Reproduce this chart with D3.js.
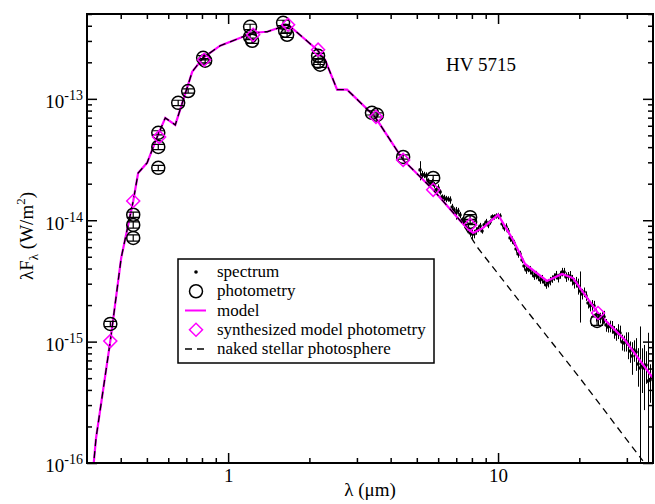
<!DOCTYPE html>
<html>
<head>
<meta charset="utf-8">
<script src="https://cdn.jsdelivr.net/npm/d3@7"></script>
<style>
body { margin: 0; background: #fff; }
text { font-family: "Liberation Serif", "Times New Roman", serif; fill: #000; }
</style>
</head>
<body>
<svg id="chart" width="655" height="504"></svg>
<script>
// ---- data (lambda in micron, lambda*F_lambda in W/m^2) ----
var modelLam = [0.316, 0.324, 0.366, 0.4016, 0.445, 0.464, 0.501, 0.546, 0.585, 0.637, 0.736, 0.808, 0.934,
  1.238, 1.394, 1.668, 2.136, 2.287, 2.533, 2.758, 3.50, 4.45, 5.75, 7.36, 8.08, 8.80, 10.0, 11.37,
  12.59, 15.18, 17.26, 18.96, 23.46, 29.5, 37.5];
var modelF = [8.75e-17, 1.60e-16, 1.01e-15, 4.89e-15, 1.44e-14, 2.45e-14, 2.97e-14, 4.86e-14, 6.97e-14, 6.10e-14,
  1.67e-13, 2.18e-13, 2.74e-13, 3.50e-13, 3.57e-13, 4.08e-13, 2.54e-13, 2.10e-13, 1.19e-13, 1.19e-13,
  7.11e-14, 3.14e-14, 1.78e-14, 9.5e-15, 7.85e-15, 8.64e-15, 1.11e-14, 6.88e-15, 4.36e-15, 3.16e-15,
  3.61e-15, 3.34e-15, 1.72e-15, 1.03e-15, 5.01e-16];

var nakedLam = [0.316, 0.324, 0.366, 0.4016, 0.445, 0.464, 0.501, 0.546, 0.585, 0.637, 0.736, 0.808, 0.934,
  1.238, 1.394, 1.668, 2.136, 2.287, 2.533, 2.758, 3.50, 4.45, 5.75, 7.36, 8.36, 12.06, 20.1, 34.4];
var nakedF = [8.75e-17, 1.60e-16, 1.01e-15, 4.89e-15, 1.44e-14, 2.45e-14, 2.97e-14, 4.86e-14, 6.97e-14, 6.10e-14,
  1.67e-13, 2.18e-13, 2.74e-13, 3.50e-13, 3.57e-13, 4.08e-13, 2.54e-13, 2.10e-13, 1.19e-13, 1.19e-13,
  7.11e-14, 3.14e-14, 1.78e-14, 9.5e-15, 6.03e-15, 2.12e-15, 5.01e-16, 1.04e-16];

var photLam = [0.366, 0.445, 0.445, 0.445, 0.551, 0.551, 0.551, 0.653, 0.711, 0.808, 0.822, 1.206, 1.206,
  1.227, 1.598, 1.626, 1.654, 2.154, 2.154, 2.192, 3.41, 3.56, 4.45, 5.75, 7.88, 7.88, 23.27];
var photF = [1.40e-15, 1.11e-14, 9.15e-15, 7.15e-15, 5.25e-14, 4.02e-14, 2.70e-14, 9.27e-14, 1.16e-13, 2.18e-13,
  2.06e-13, 3.92e-13, 3.24e-13, 3.01e-13, 4.23e-13, 3.64e-13, 3.37e-13, 2.26e-13, 2.02e-13, 1.91e-13,
  7.67e-14, 7.38e-14, 3.32e-14, 2.23e-14, 1.06e-14, 9.68e-15, 1.48e-15];
var photErr = [0.05, 0.05, 0.06, 0.06, 0.04, 0.05, 0.05, 0.05, 0.04, 0.04, 0.04, 0.05, 0.05, 0.05, 0.05, 0.05,
  0.05, 0.05, 0.05, 0.05, 0.04, 0.04, 0.04, 0.05, 0.05, 0.05, 0.08];

var synthLam = [0.366, 0.445, 0.555, 0.815, 1.238, 1.668, 2.154, 3.53, 4.45, 5.75, 7.88, 23.46];
var synthF = [1.01e-15, 1.44e-14, 4.86e-14, 2.10e-13, 3.37e-13, 4.08e-13, 2.54e-13, 7.11e-14, 3.14e-14,
  1.78e-14, 9.15e-15, 1.72e-15];

var specLam = [5.14, 5.23, 5.32, 5.41, 5.51, 5.60, 5.70, 5.79, 5.89, 6.00, 6.10, 6.20, 6.31, 6.42, 6.53, 6.64,
  6.76, 6.87, 6.99, 7.11, 7.23, 7.36, 7.48, 7.61, 7.74, 7.88, 8.01, 8.15, 8.29, 8.43, 8.58, 8.72, 8.88,
  9.03, 9.18, 9.34, 9.50, 9.66, 9.83, 10.00, 10.17, 10.35, 10.53, 10.71, 10.89, 11.08, 11.27, 11.46,
  11.66, 11.86, 12.06, 12.27, 12.48, 12.70, 12.92, 13.14, 13.36, 13.59, 13.83, 14.07, 14.31, 14.55,
  14.80, 15.06, 15.32, 15.58, 15.85, 16.12, 16.40, 16.68, 16.97, 17.26, 17.56, 17.86, 18.17, 18.48,
  18.80, 19.12, 19.45, 19.78, 20.12, 20.47, 20.82, 21.18, 21.54, 21.91, 22.29, 22.67, 23.07, 23.46,
  23.87, 24.28, 24.69, 25.12, 25.55, 25.99, 26.44, 26.89, 27.35, 27.83, 28.30, 28.79, 29.29, 29.79,
  30.30, 30.82, 31.35, 31.89, 32.44, 33.00, 33.57, 34.14, 34.73, 35.33, 35.94, 36.55, 37.19];
var specF = [2.598e-14, 2.363e-14, 2.363e-14, 2.318e-14, 2.109e-14, 1.992e-14, 2.069e-14, 1.954e-14,
  1.777e-14, 1.846e-14, 1.711e-14, 1.556e-14, 1.527e-14, 1.498e-14, 1.498e-14, 1.470e-14, 1.287e-14,
  1.216e-14, 1.149e-14, 1.193e-14, 1.106e-14, 1.006e-14, 9.50e-15, 8.81e-15, 8.64e-15, 7.86e-15,
  7.71e-15, 7.71e-15, 8.16e-15, 8.48e-15, 8.97e-15, 8.16e-15, 9.15e-15, 9.68e-15, 9.15e-15, 9.68e-15,
  1.065e-14, 1.065e-14, 1.085e-14, 1.085e-14, 1.085e-14, 9.32e-15, 8.64e-15, 8.81e-15, 8.16e-15,
  7.15e-15, 6.88e-15, 6.50e-15, 5.80e-15, 5.28e-15, 5.28e-15, 4.71e-15, 4.20e-15, 3.89e-15, 3.97e-15,
  3.89e-15, 3.68e-15, 3.47e-15, 3.54e-15, 3.41e-15, 3.22e-15, 3.28e-15, 3.10e-15, 2.93e-15, 3.04e-15,
  3.16e-15, 3.28e-15, 3.41e-15, 3.54e-15, 3.34e-15, 3.54e-15, 3.75e-15, 3.75e-15, 3.41e-15, 3.47e-15,
  3.47e-15, 3.22e-15, 3.04e-15, 3.10e-15, 2.87e-15, 2.61e-15, 2.47e-15, 2.56e-15, 2.38e-15, 2.08e-15,
  1.97e-15, 2.00e-15, 1.97e-15, 1.66e-15, 1.54e-15, 1.57e-15, 1.57e-15, 1.60e-15, 1.37e-15, 1.32e-15,
  1.34e-15, 1.32e-15, 1.20e-15, 1.155e-15, 1.22e-15, 1.177e-15, 9.93e-16, 9.74e-16, 1.01e-15, 9.55e-16,
  8.36e-16, 7.61e-16, 8.53e-16, 8.21e-16, 6.54e-16, 6.06e-16, 6.29e-16, 6.06e-16, 6.41e-16, 4.73e-16,
  4.82e-16, 5.11e-16];
var specErr = [0.18, 0.08, 0.06, 0.07, 0.05, 0.05, 0.06, 0.06, 0.05, 0.07,
  0.05, 0.05, 0.06, 0.06, 0.05, 0.07, 0.06, 0.05, 0.12, 0.06,
  0.06, 0.05, 0.07, 0.06, 0.08, 0.07, 0.09, 0.08, 0.07, 0.06,
  0.06, 0.05, 0.05, 0.06, 0.06, 0.05, 0.05, 0.05, 0.05, 0.06,
  0.05, 0.06, 0.06, 0.07, 0.06, 0.07, 0.07, 0.06, 0.07, 0.07,
  0.06, 0.06, 0.07, 0.07, 0.06, 0.08, 0.07, 0.07, 0.08, 0.07,
  0.07, 0.08, 0.07, 0.07, 0.08, 0.08, 0.07, 0.07, 0.08, 0.08,
  0.07, 0.08, 0.08, 0.09, 0.08, 0.10, 0.10, 0.10, 0.10, 0.15,
  0.45, 0.10, 0.09, 0.09, 0.10, 0.10, 0.10, 0.10, 0.12, 0.12,
  0.10, 0.11, 0.12, 0.12, 0.10, 0.11, 0.12, 0.12, 0.12, 0.14,
  0.15, 0.15, 0.15, 0.18, 0.25, 0.20, 0.30, 0.20, 0.30, 0.35,
  1.20, 0.40, 0.55, 0.30, 1.50, 0.35, 0.40];

var xMajor = [1, 10];
var xMinor = [0.4, 0.5, 0.6, 0.7, 0.8, 0.9, 2, 3, 4, 5, 6, 7, 8, 9, 20, 30];
var yMajor = [1e-16, 1e-15, 1e-14, 1e-13];
var legendLabels = ["spectrum", "photometry", "model", "synthesized model photometry", "naked stellar photosphere"];
var title = "HV 5715";

function draw() {
  var svg = d3.select('#chart'),
      pLeft = 87, pRight = 653, pTop = 14, pBottom = 463,
      magenta = '#ff00ff';

  var x = d3.scaleLog().domain([0.3, 37.5]).range([pLeft, pRight]);
  var y = d3.scaleLog().domain([1e-16, 5e-13]).range([pBottom, pTop]);

  var yMinor = [];
  yMajor.forEach(function(m) {
    for (var k = 2; k <= 9; k++) if (k * m <= 5e-13) yMinor.push(k * m);
  });

  svg.append('defs').append('clipPath').attr('id', 'clip')
    .append('rect').attr('x', pLeft).attr('y', pTop)
    .attr('width', pRight - pLeft).attr('height', pBottom - pTop);

  function ticks(axis, vals, len, tx, ty) {
    var g = svg.append('g').attr('transform', 'translate(' + tx + ',' + ty + ')')
      .call(axis.tickValues(vals).tickSize(-len).tickFormat(''));
    g.select('.domain').remove();
    g.selectAll('line').attr('stroke', '#000').attr('stroke-width', 1.5);
    g.selectAll('text').remove();
    return g;
  }

  // minor + major ticks on all four sides (pointing inward)
  ticks(d3.axisBottom(x), xMinor, 5, 0, pBottom);
  ticks(d3.axisBottom(x), xMajor, 10, 0, pBottom);
  ticks(d3.axisTop(x), xMinor, 5, 0, pTop);
  ticks(d3.axisTop(x), xMajor, 10, 0, pTop);
  ticks(d3.axisLeft(y), yMinor, 5, pLeft, 0);
  ticks(d3.axisLeft(y), yMajor, 10, pLeft, 0);
  ticks(d3.axisRight(y), yMinor, 5, pRight, 0);
  ticks(d3.axisRight(y), yMajor, 10, pRight, 0);

  // tick labels
  var gxl = svg.append('g').attr('transform', 'translate(0,' + pBottom + ')')
    .call(d3.axisBottom(x).tickValues(xMajor).tickSize(0).tickPadding(6).tickFormat(d3.format('d')));
  gxl.select('.domain').remove();
  gxl.attr('font-family', null).attr('font-size', 19);

  var gyl = svg.append('g').attr('transform', 'translate(' + pLeft + ',0)')
    .call(d3.axisLeft(y).tickValues(yMajor).tickSize(0).tickPadding(4).tickFormat(''));
  gyl.select('.domain').remove();
  gyl.attr('font-family', null).attr('font-size', 19);
  gyl.selectAll('.tick text').each(function(d) {
    var t = d3.select(this).attr('dy', '0.47em');
    t.append('tspan').text('10');
    t.append('tspan').attr('dy', -8).attr('font-size', 14).text(String(Math.round(Math.log10(d))));
  });

  var plot = svg.append('g').attr('clip-path', 'url(#clip)');

  var line = d3.line()
    .x(function(d) { return x(d[0]); })
    .y(function(d) { return y(d[1]); });

  // spectrum with error bars
  var spec = plot.selectAll('g.spec')
    .data(d3.zip(specLam, specF, specErr))
    .enter()
    .append('g')
    .attr('class', 'spec');

  spec.append('line')
    .attr('x1', function(d) { return Math.round(x(d[0])) + 0.5; })
    .attr('x2', function(d) { return Math.round(x(d[0])) + 0.5; })
    .attr('y1', function(d) { return y(d[1] * (1 + d[2])); })
    .attr('y2', function(d) { return y(Math.max(d[1] * (1 - d[2]), 1e-17)); })
    .attr('stroke', '#000')
    .attr('stroke-width', 1);

  spec.append('circle')
    .attr('cx', function(d) { return x(d[0]); })
    .attr('cy', function(d) { return y(d[1]); })
    .attr('r', 1.8)
    .attr('fill', '#000');

  // model
  plot.append('path')
    .datum(d3.zip(modelLam, modelF))
    .attr('d', line)
    .attr('fill', 'none')
    .attr('stroke', magenta)
    .attr('stroke-width', 2.2);

  // naked photosphere (dashed, drawn over the model where they coincide)
  plot.append('path')
    .datum(d3.zip(nakedLam, nakedF))
    .attr('d', line)
    .attr('fill', 'none')
    .attr('stroke', '#000')
    .attr('stroke-width', 1.3)
    .attr('stroke-dasharray', '7,5');

  // photometry circles with small error bars
  var phot = plot.selectAll('g.phot')
    .data(d3.zip(photLam, photF, photErr))
    .enter()
    .append('g')
    .attr('class', 'phot')
    .attr('transform', function(d) { return 'translate(' + x(d[0]) + ',0)'; });

  phot.append('circle')
    .attr('cy', function(d) { return y(d[1]); })
    .attr('r', 6.5)
    .attr('fill', 'none')
    .attr('stroke', '#000')
    .attr('stroke-width', 1.5);

  phot.append('path')
    .attr('d', function(d) {
      var hi = y(d[1] * (1 + d[2])), lo = y(d[1] * (1 - d[2]));
      return 'M0 ' + hi + ' L0 ' + lo + ' M-6 ' + hi + ' L6 ' + hi + ' M-6 ' + lo + ' L6 ' + lo;
    })
    .attr('stroke', '#000')
    .attr('stroke-width', 1.2)
    .attr('fill', 'none');

  // synthesized model photometry (diamonds)
  var diamond = d3.symbol().type(d3.symbolSquare).size(85);
  plot.selectAll('path.synth')
    .data(d3.zip(synthLam, synthF))
    .enter()
    .append('path')
    .attr('class', 'synth')
    .attr('d', diamond)
    .attr('transform', function(d) { return 'translate(' + x(d[0]) + ',' + y(d[1]) + ') rotate(45)'; })
    .attr('fill', 'none')
    .attr('stroke', magenta)
    .attr('stroke-width', 1.5);

  // frame
  svg.append('rect')
    .attr('x', pLeft).attr('y', pTop)
    .attr('width', pRight - pLeft).attr('height', pBottom - pTop)
    .attr('fill', 'none')
    .attr('stroke', '#000')
    .attr('stroke-width', 2);

  // title
  svg.append('text')
    .attr('x', 481).attr('y', 71)
    .attr('text-anchor', 'middle')
    .attr('font-size', 19)
    .text(title);

  // axis titles
  svg.append('text')
    .attr('x', (pLeft + pRight) / 2).attr('y', 496)
    .attr('text-anchor', 'middle')
    .attr('font-size', 19)
    .text('λ (μm)');

  var yl = svg.append('text')
    .attr('transform', 'translate(33,236) rotate(-90)')
    .attr('text-anchor', 'middle')
    .attr('font-size', 19);
  yl.append('tspan').text('λF');
  yl.append('tspan').attr('font-size', 13).attr('dy', 5).text('λ');
  yl.append('tspan').attr('dy', -5).text(' (W/m');
  yl.append('tspan').attr('font-size', 13).attr('dy', -8).text('2');
  yl.append('tspan').attr('dy', 8).text(')');

  // legend
  var legend = svg.append('g');
  legend.append('rect')
    .attr('x', 178).attr('y', 259).attr('width', 256).attr('height', 104)
    .attr('fill', '#fff').attr('stroke', '#000').attr('stroke-width', 1.5);

  var rowY = d3.scalePoint().domain(legendLabels).range([272, 349]);

  legend.selectAll('text.lab')
    .data(legendLabels)
    .enter()
    .append('text')
    .attr('class', 'lab')
    .attr('x', 217)
    .attr('y', function(d) { return rowY(d) + 5; })
    .attr('font-size', 17)
    .text(function(d) { return d; });

  legend.append('circle').attr('cx', 196).attr('cy', rowY(legendLabels[0])).attr('r', 1.8).attr('fill', '#000');
  legend.append('circle').attr('cx', 196).attr('cy', rowY(legendLabels[1])).attr('r', 6.5)
    .attr('fill', 'none').attr('stroke', '#000').attr('stroke-width', 1.5);
  legend.append('line').attr('x1', 185).attr('x2', 206)
    .attr('y1', rowY(legendLabels[2])).attr('y2', rowY(legendLabels[2]))
    .attr('stroke', magenta).attr('stroke-width', 2);
  legend.append('path').attr('d', diamond)
    .attr('transform', 'translate(196,' + rowY(legendLabels[3]) + ') rotate(45)')
    .attr('fill', 'none').attr('stroke', magenta).attr('stroke-width', 1.5);
  legend.append('line').attr('x1', 185).attr('x2', 206)
    .attr('y1', rowY(legendLabels[4])).attr('y2', rowY(legendLabels[4]))
    .attr('stroke', '#000').attr('stroke-width', 1.5).attr('stroke-dasharray', '7,5');
}

draw();
</script>
</body>
</html>
